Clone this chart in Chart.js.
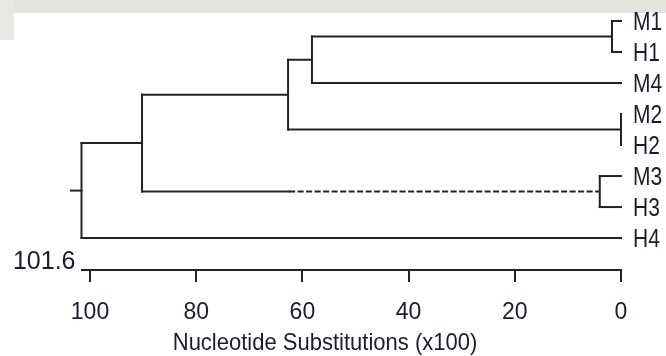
<!DOCTYPE html>
<html>
<head>
<meta charset="utf-8">
<script src="https://cdn.jsdelivr.net/npm/chart.js@4/dist/chart.umd.min.js"></script>
<style>
  html, body { margin: 0; padding: 0; background: #ffffff; }
  #wrap { position: relative; width: 666px; height: 356px; }
  #bandTop { position: absolute; left: 0; top: 0; width: 666px; height: 13px; background: #e1e5de; }
  #bandLeft { position: absolute; left: 0; top: 0; width: 14px; height: 40px; background: #e6e9e3; }
  canvas { position: absolute; left: 0; top: 0; }
</style>
</head>
<body>
<div id="wrap">
  <div id="bandTop"></div>
  <div id="bandLeft"></div>
  <canvas id="c" width="666" height="356"></canvas>
</div>
<script>
// ---- data ----
const leaves = ['M1', 'H1', 'M4', 'M2', 'H2', 'M3', 'H3', 'H4'];
const leafHeights = [0, 0, 0, 0, 0, 0, 0, 0];
const nodeNames = ['M1H1', 'M2H2', 'M3H3', 'A', 'B', 'C', 'root'];
const nodeLeft = ['M1', 'M2', 'M3', 'M1H1', 'A', 'B', 'C'];
const nodeRight = ['H1', 'H2', 'H3', 'M4', 'M2H2', 'M3H3', 'H4'];
const nodeHeights = [1.7, 0, 4.0, 58.2, 62.7, 90.2, 101.6];
const dashedChild = 'M3H3';
const dashedStart = 62.5;
const rootStubEnd = 103.6;
const xTicks = [100, 80, 60, 40, 20, 0];
const xMax = 101.6;
const scaleMaxLabel = '101.6';
const xTitle = 'Nucleotide Substitutions (x100)';

const FAMILY = '"Liberation Sans", Arial, sans-serif';

// ---- build tree geometry (in data units) ----
const pos = {};
leaves.forEach((n, i) => { pos[n] = { x: leafHeights[i], y: i }; });
nodeNames.forEach((n, i) => {
  const a = pos[nodeLeft[i]], b = pos[nodeRight[i]];
  pos[n] = { x: nodeHeights[i], y: (a.y + b.y) / 2 };
});

const LINE = '#232323';
const solid = [];
const dashed = [];
nodeNames.forEach((n, i) => {
  const p = pos[n];
  const a = pos[nodeLeft[i]], b = pos[nodeRight[i]];
  solid.push([{ x: p.x, y: a.y }, { x: p.x, y: b.y }]);
  [nodeLeft[i], nodeRight[i]].forEach(ch => {
    const c = pos[ch];
    if (ch === dashedChild) {
      solid.push([{ x: p.x, y: c.y }, { x: dashedStart, y: c.y }]);
      dashed.push([{ x: dashedStart, y: c.y }, { x: c.x, y: c.y }]);
    } else if (p.x !== c.x) {
      solid.push([{ x: p.x, y: c.y }, { x: c.x, y: c.y }]);
    }
  });
});
const root = pos['root'];
solid.push([{ x: rootStubEnd, y: root.y }, { x: root.x, y: root.y }]);

const datasets = [];
solid.forEach(seg => datasets.push({
  data: seg, showLine: true, borderColor: LINE, borderWidth: 2,
  pointRadius: 0, borderCapStyle: 'square', clip: false
}));
dashed.forEach(seg => datasets.push({
  data: seg, showLine: true, borderColor: LINE, borderWidth: 2,
  pointRadius: 0, borderDash: [6, 2.5], borderCapStyle: 'butt', clip: false
}));

const TXT = '#1c1c2c';

function stretchedText(ctx, text, x, y, sy) {
  ctx.save();
  ctx.translate(x, y);
  ctx.scale(1, sy);
  ctx.fillText(text, 0, 0);
  ctx.restore();
}

const textPlugin = {
  id: 'extraText',
  afterDraw(chart) {
    const ctx = chart.ctx;
    const xs = chart.scales.x;
    const ys = chart.scales.y;
    ctx.save();
    ctx.fillStyle = TXT;
    // value at the left end of the axis
    ctx.font = '25px ' + FAMILY;
    ctx.textAlign = 'right';
    ctx.textBaseline = 'alphabetic';
    ctx.fillText(scaleMaxLabel, xs.getPixelForValue(xMax) - 6, chart.chartArea.bottom - 1);
    // axis title
    ctx.font = '22px ' + FAMILY;
    ctx.textAlign = 'center';
    ctx.textBaseline = 'middle';
    stretchedText(ctx, xTitle, chart.width / 2 - 8, xs.bottom - 13, 1.08);
    // leaf labels
    ctx.font = '21px ' + FAMILY;
    ctx.textAlign = 'left';
    ctx.textBaseline = 'middle';
    leaves.forEach((name, i) => {
      stretchedText(ctx, name, ys.left + 12, ys.getPixelForValue(i) + 2, 1.22);
    });
    ctx.restore();
  }
};

new Chart(document.getElementById('c'), {
  type: 'scatter',
  data: { datasets },
  options: {
    responsive: false,
    animation: false,
    events: [],
    layout: { padding: { left: 81.5, top: 4, right: 0, bottom: 0 } },
    plugins: { legend: { display: false }, tooltip: { enabled: false } },
    scales: {
      x: {
        type: 'linear', reverse: true, min: 0, max: xMax, position: 'bottom',
        afterBuildTicks: s => { s.ticks = xTicks.map(v => ({ value: v })); },
        afterFit: s => { s.height = 86; },
        grid: { drawOnChartArea: false, drawTicks: true, tickLength: 12, color: LINE, lineWidth: 2 },
        border: { display: true, color: LINE, width: 2 },
        ticks: { font: { family: FAMILY, size: 23 }, color: TXT, padding: 17, maxRotation: 0, autoSkip: false },
        title: { display: false }
      },
      y: {
        type: 'linear', reverse: true, min: -0.548, max: 8.03, position: 'right',
        afterBuildTicks: s => { s.ticks = leaves.map((_, i) => ({ value: i })); },
        afterFit: s => { s.width = 45; s.paddingTop = 0; s.paddingBottom = 0; },
        grid: { display: false, drawTicks: false },
        border: { display: false },
        ticks: { display: false }
      }
    }
  },
  plugins: [textPlugin]
});
</script>
</body>
</html>
